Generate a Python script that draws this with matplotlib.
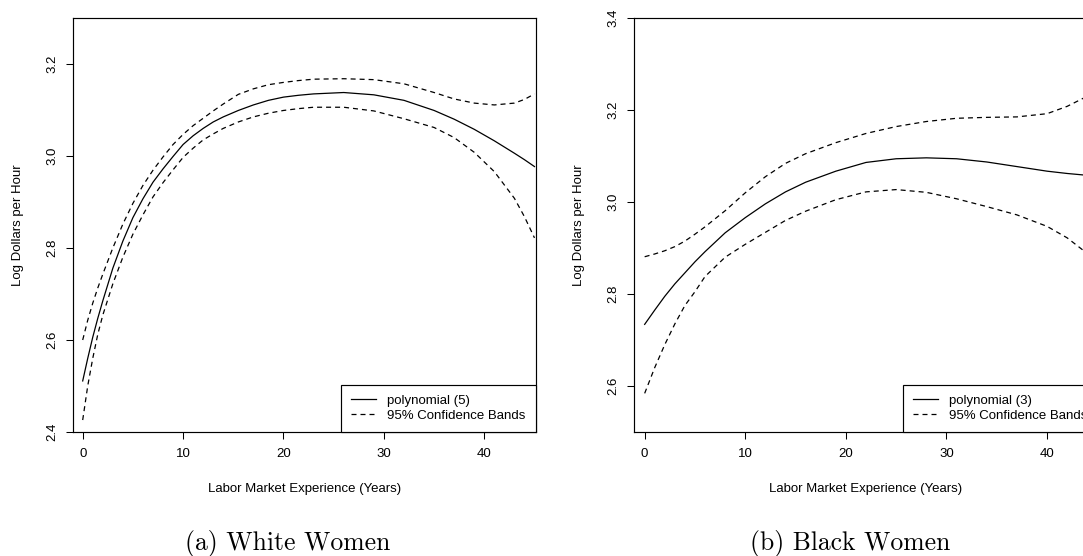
import matplotlib
matplotlib.use("Agg")
import matplotlib.pyplot as plt
from matplotlib.lines import Line2D

plt.rcParams['font.family'] = ['Liberation Sans', 'DejaVu Sans']

# ---- White women: degree-5 polynomial fit with 95% bands ----
white_exp = [0, 0.5, 1, 1.5, 2, 3, 4, 5, 6, 7, 8, 9, 10, 11, 12, 13, 14, 15.5, 17,
             18.5, 20, 21.5, 23, 26, 29, 32, 35, 37, 39, 41, 43, 44, 45]
white_fit = [2.511, 2.560, 2.606, 2.647, 2.685, 2.756, 2.815, 2.866, 2.907, 2.943,
             2.972, 2.999, 3.025, 3.044, 3.060, 3.074, 3.085, 3.099, 3.111, 3.121,
             3.128, 3.132, 3.135, 3.138, 3.133, 3.121, 3.099, 3.080, 3.058, 3.033,
             3.006, 2.992, 2.977]
white_upper = [2.600, 2.643, 2.680, 2.713, 2.743, 2.800, 2.852, 2.897, 2.936, 2.969,
               2.998, 3.025, 3.047, 3.066, 3.082, 3.098, 3.113, 3.134, 3.146, 3.155,
               3.160, 3.164, 3.167, 3.168, 3.166, 3.157, 3.138, 3.124, 3.115, 3.111,
               3.115, 3.123, 3.135]
white_lower = [2.426, 2.500, 2.560, 2.612, 2.654, 2.722, 2.780, 2.830, 2.872, 2.911,
               2.942, 2.970, 2.997, 3.017, 3.035, 3.048, 3.060, 3.074, 3.085, 3.093,
               3.099, 3.103, 3.106, 3.106, 3.098, 3.081, 3.062, 3.040, 3.008, 2.966,
               2.908, 2.868, 2.822]

# ---- Black women: degree-3 polynomial fit with 95% bands ----
black_exp = [0, 1, 2, 3, 4, 5, 6, 8, 10, 12, 14, 16, 19, 22, 25, 28, 31, 34, 37,
             40, 42, 44, 45]
black_fit = [2.734, 2.765, 2.795, 2.822, 2.846, 2.870, 2.892, 2.933, 2.966, 2.996,
             3.022, 3.043, 3.067, 3.086, 3.094, 3.096, 3.094, 3.087, 3.077, 3.067,
             3.062, 3.058, 3.056]
black_upper = [2.881, 2.887, 2.894, 2.903, 2.915, 2.930, 2.946, 2.981, 3.020, 3.055,
               3.084, 3.105, 3.129, 3.149, 3.164, 3.175, 3.182, 3.184, 3.185, 3.192,
               3.208, 3.230, 3.243]
black_lower = [2.584, 2.640, 2.690, 2.735, 2.775, 2.805, 2.838, 2.880, 2.908, 2.934,
               2.960, 2.980, 3.005, 3.022, 3.027, 3.021, 3.007, 2.990, 2.972, 2.947,
               2.922, 2.888, 2.868]

x_ticks = [0, 10, 20, 30, 40]
white_yticks = [2.4, 2.6, 2.8, 3.0, 3.2]
black_yticks = [2.6, 2.8, 3.0, 3.2, 3.4]

W, H = 1083, 556
fig = plt.figure(figsize=(W / 100, H / 100), dpi=100)

FS = 9.5
LW = 0.9
DASH = (4, 3.2)


def panel(rect, xs, fit, up, lo, xlim, ylim, yticks, fit_label, caption, cap_x):
    ax = fig.add_axes(rect)
    ax.plot(xs, fit, color='black', lw=LW, solid_joinstyle='round')
    ax.plot(xs, up, color='black', lw=LW, dashes=DASH)
    ax.plot(xs, lo, color='black', lw=LW, dashes=DASH)
    ax.set_xlim(*xlim)
    ax.set_ylim(*ylim)
    ax.set_xticks(x_ticks)
    ax.set_xticklabels([str(t) for t in x_ticks])
    ax.set_yticks(yticks)
    ax.set_yticklabels([f"{t:.1f}" for t in yticks], rotation=90, va='center')
    ax.tick_params(axis='both', length=5, width=0.75, labelsize=FS, colors='black')
    ax.tick_params(axis='x', pad=6.5)
    ax.tick_params(axis='y', pad=6)
    for s in ax.spines.values():
        s.set_linewidth(0.85)
        s.set_color('black')
    ax.set_xlabel('Labor Market Experience (Years)', fontsize=FS, va='center')
    ax.xaxis.set_label_coords(0.5, -(489 - 432) / 414)
    ax.set_ylabel('Log Dollars per Hour', fontsize=FS, va='center')
    ax.yaxis.set_label_coords(-0.12, 0.5)
    handles = [Line2D([], [], color='black', lw=LW),
               Line2D([], [], color='black', lw=LW, dashes=DASH)]
    leg = ax.legend(handles, [fit_label, '95% Confidence Bands'], loc='lower right',
                    bbox_to_anchor=(1, 0), borderaxespad=0, fontsize=FS,
                    fancybox=False, edgecolor='black', framealpha=1,
                    handlelength=1.9, handletextpad=0.85, borderpad=0.75,
                    labelspacing=0.22)
    leg.get_frame().set_linewidth(0.85)
    fig.text(cap_x, 1 - 550 / H, caption, fontfamily='cmr10', fontsize=18.5,
             ha='center', va='baseline')
    return ax


panel([73.3 / W, 1 - 432 / H, (535.7 - 73.3) / W, 414 / H],
      white_exp, white_fit, white_upper, white_lower,
      (-0.936, 45.12), (2.4, 3.3), white_yticks, 'polynomial (5)',
      '(a) White Women', 288 / W)

panel([634.3 / W, 1 - 432 / H, (1097.4 - 634.3) / W, 414 / H],
      black_exp, black_fit, black_upper, black_lower,
      (-1.03, 45.0), (2.5, 3.4), black_yticks, 'polynomial (3)',
      '(b) Black Women', 850 / W)

fig.savefig('out.png', dpi=100)
